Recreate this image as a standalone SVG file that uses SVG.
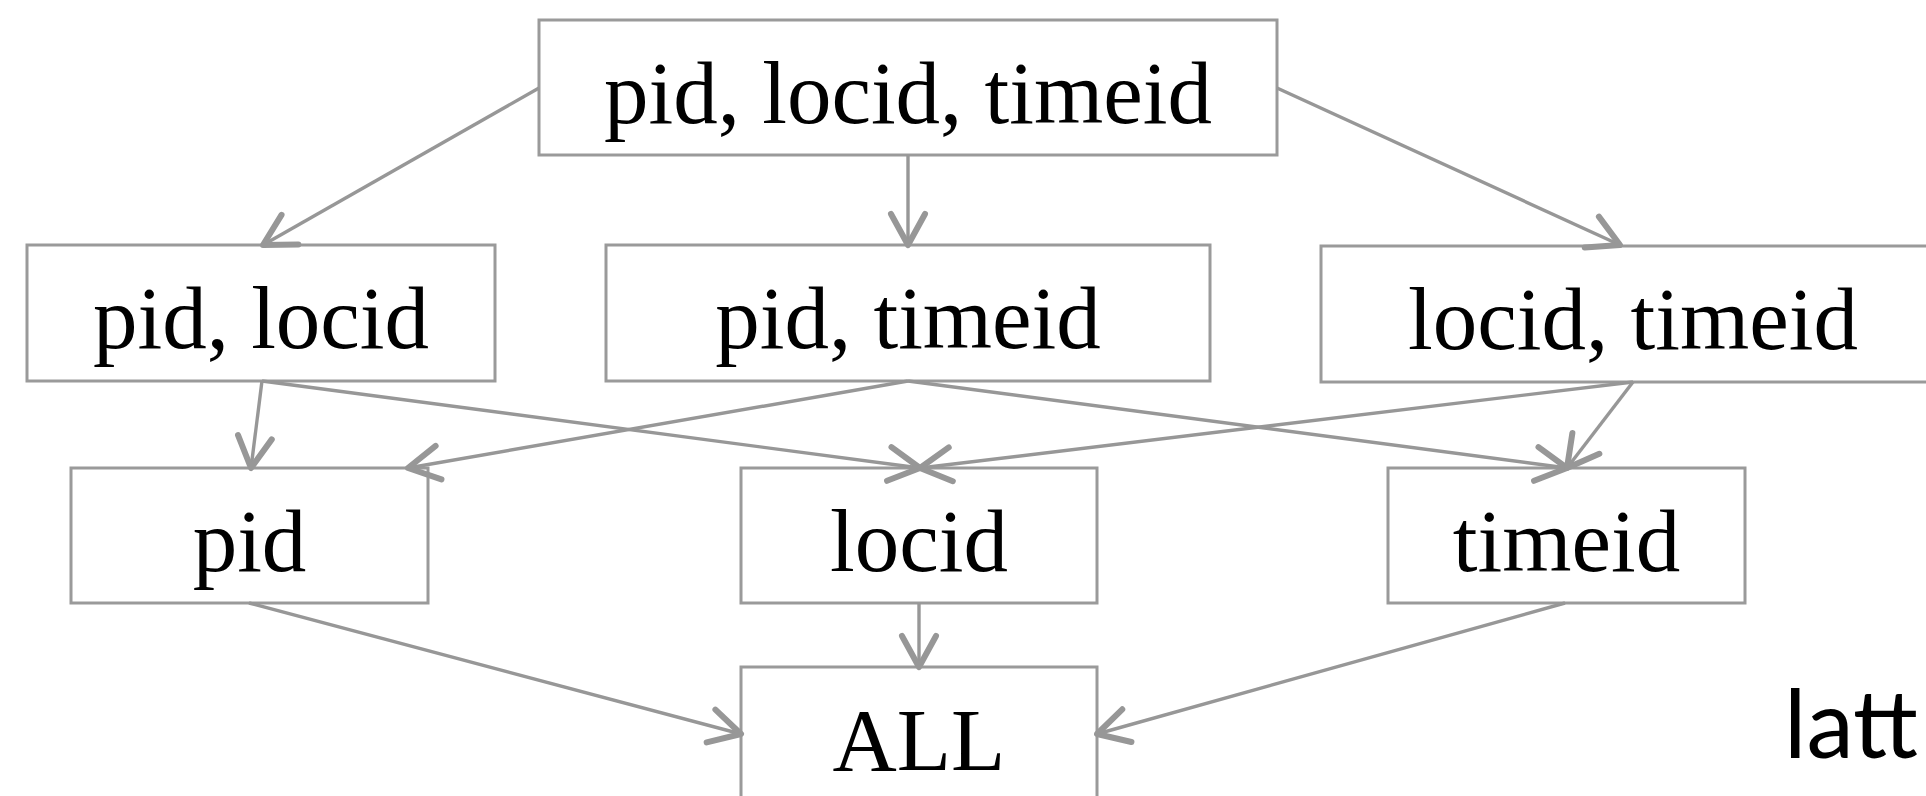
<svg xmlns="http://www.w3.org/2000/svg" width="1926" height="796" viewBox="0 0 1926 796">
  <style>
    .box { fill: #ffffff; stroke: #9a9a9a; stroke-width: 3; }
    .lbl { font-family: "Liberation Serif", "Times New Roman", serif; font-size: 89px; fill: #000000; text-anchor: middle; }
    .edge { stroke: #979797; stroke-width: 3.4; fill: none; marker-end: url(#arrow); }
    .side { font-family: "Lato", "Liberation Sans", sans-serif; font-weight: 400; font-size: 95px; fill: #000000; }
  </style>
  <defs>
    <marker id="arrow" markerUnits="userSpaceOnUse" viewBox="-36 -20 40 40" refX="0" refY="0" markerWidth="40" markerHeight="40" orient="auto" overflow="visible">
      <path d="M -31 -17 L 0 0 L -31 17" fill="none" stroke="#979797" stroke-width="6" stroke-linecap="round" stroke-linejoin="round"/>
    </marker>
  </defs>

  <rect width="1926" height="796" fill="#ffffff"/>

  <!-- lattice nodes -->
  <g id="node-pid-locid-timeid">
    <rect class="box" x="539" y="20" width="738" height="135"/>
    <text class="lbl" x="908" y="123">pid, locid, timeid</text>
  </g>
  <g id="node-pid-locid">
    <rect class="box" x="27" y="245" width="468" height="136"/>
    <text class="lbl" x="261" y="348">pid, locid</text>
  </g>
  <g id="node-pid-timeid">
    <rect class="box" x="606" y="245" width="604" height="136"/>
    <text class="lbl" x="908" y="348">pid, timeid</text>
  </g>
  <g id="node-locid-timeid">
    <rect class="box" x="1321" y="246" width="625" height="136"/>
    <text class="lbl" x="1633" y="349">locid, timeid</text>
  </g>
  <g id="node-pid">
    <rect class="box" x="71" y="468" width="357" height="135"/>
    <text class="lbl" x="249.5" y="571">pid</text>
  </g>
  <g id="node-locid">
    <rect class="box" x="741" y="468" width="356" height="135"/>
    <text class="lbl" x="919" y="571">locid</text>
  </g>
  <g id="node-timeid">
    <rect class="box" x="1388" y="468" width="357" height="135"/>
    <text class="lbl" x="1566.5" y="571">timeid</text>
  </g>
  <g id="node-all">
    <rect class="box" x="741" y="667" width="356" height="135"/>
    <text class="lbl" x="919" y="770">ALL</text>
  </g>

  <!-- roll-up connectors -->
  <g id="connectors">
    <line class="edge" x1="539" y1="88" x2="263" y2="245"/>
    <line class="edge" x1="908" y1="155" x2="908" y2="245"/>
    <line class="edge" x1="1277" y1="88" x2="1620" y2="245"/>
    <line class="edge" x1="262" y1="381" x2="251" y2="468"/>
    <line class="edge" x1="262" y1="381" x2="920" y2="468"/>
    <line class="edge" x1="908" y1="381" x2="408" y2="468"/>
    <line class="edge" x1="908" y1="381" x2="1567" y2="468"/>
    <line class="edge" x1="1633" y1="382" x2="920" y2="468"/>
    <line class="edge" x1="1633" y1="382" x2="1567" y2="468"/>
    <line class="edge" x1="249" y1="603" x2="741" y2="734"/>
    <line class="edge" x1="919" y1="603" x2="919" y2="667"/>
    <line class="edge" x1="1565" y1="603" x2="1097" y2="734"/>
  </g>

  <text class="side" x="1784" y="758">latt</text>
</svg>
